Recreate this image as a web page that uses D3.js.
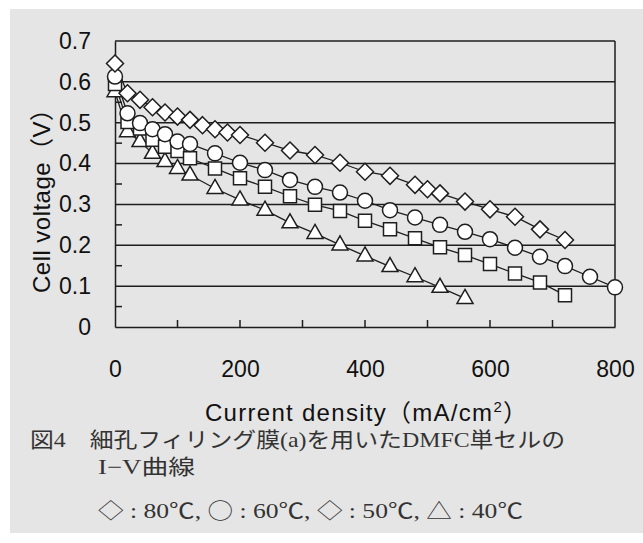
<!DOCTYPE html>
<html>
<head>
<meta charset="utf-8">
<script src="https://cdn.jsdelivr.net/npm/d3@7"></script>
<style>
  body { margin: 0; background: #fff; }
  .tick text { font-family: "Liberation Sans", Arial, sans-serif; }
</style>
</head>
<body>
<div id="chart"></div>
<script>
// I-V data (current density mA/cm2, cell voltage V)
var cur80 = [0, 20, 40, 60, 80, 100, 120, 140, 160, 180, 200, 240, 280, 320, 360, 400, 440, 480, 500, 520, 560, 600, 640, 680, 720];
var volt80 = [0.645, 0.572, 0.556, 0.538, 0.525, 0.515, 0.507, 0.494, 0.484, 0.476, 0.470, 0.451, 0.432, 0.421, 0.402, 0.380, 0.370, 0.348, 0.337, 0.327, 0.307, 0.288, 0.270, 0.239, 0.213];

var cur60 = [0, 20, 40, 60, 80, 100, 120, 160, 200, 240, 280, 320, 360, 400, 440, 480, 520, 560, 600, 640, 680, 720, 760, 800];
var volt60 = [0.613, 0.523, 0.499, 0.484, 0.472, 0.454, 0.448, 0.425, 0.402, 0.384, 0.360, 0.343, 0.329, 0.309, 0.286, 0.268, 0.250, 0.233, 0.215, 0.194, 0.172, 0.149, 0.123, 0.097];

var cur50 = [0, 20, 40, 60, 80, 100, 120, 160, 200, 240, 280, 320, 360, 400, 440, 480, 520, 560, 600, 640, 680, 720];
var volt50 = [0.595, 0.502, 0.486, 0.458, 0.441, 0.431, 0.413, 0.388, 0.364, 0.343, 0.320, 0.299, 0.284, 0.260, 0.239, 0.217, 0.195, 0.176, 0.154, 0.131, 0.109, 0.078];

var cur40 = [0, 20, 40, 60, 80, 100, 120, 160, 200, 240, 280, 320, 360, 400, 440, 480, 520, 560];
var volt40 = [0.576, 0.478, 0.454, 0.425, 0.405, 0.388, 0.372, 0.339, 0.311, 0.286, 0.255, 0.229, 0.201, 0.174, 0.148, 0.123, 0.097, 0.070];

var xTicks = [0, 200, 400, 600, 800];
var yTicks = [0, 0.1, 0.2, 0.3, 0.4, 0.5, 0.6, 0.7];

// caption pieces: [text, symbol?]
var captionLine1 = [["図4　細孔フィリング膜(a)を用いたDMFC単セルの", false]];
var captionLine2 = [["I−V曲線", false]];
var captionLine3 = [["◇", true], [" : 80℃, ", false], ["○", true], [" : 60℃, ", false],
                    ["◇", true], [" : 50℃, ", false], ["△", true], [" : 40℃", false]];

var svgWidth = 643;
var svgHeight = 543;
var margin = {top: 41, right: 28, bottom: 216, left: 115};
var width = svgWidth - margin.left - margin.right;
var height = svgHeight - margin.top - margin.bottom;

var svg = d3.select("#chart")
  .append("svg")
  .attr("width", svgWidth)
  .attr("height", svgHeight);

// grey panel behind everything
svg.append("rect")
  .attr("x", 10).attr("y", 9)
  .attr("width", svgWidth - 10).attr("height", 524)
  .attr("fill", "#e5e5e5");

var chartGroup = svg.append("g")
  .attr("transform", `translate(${margin.left}, ${margin.top})`);

var x = d3.scaleLinear().domain([0, 800]).range([0, width]);
var y = d3.scaleLinear().domain([0, 0.7]).range([height, 0]);

var ink = "#1e1e1e";

// horizontal grid lines
chartGroup.selectAll("line.grid")
  .data(yTicks.slice(1))
  .enter()
  .append("line")
  .attr("class", "grid")
  .attr("x1", 0).attr("x2", width)
  .attr("y1", d => y(d)).attr("y2", d => y(d))
  .attr("stroke", ink).attr("stroke-width", 1.5);

// right border
chartGroup.append("line")
  .attr("x1", width).attr("x2", width)
  .attr("y1", 0).attr("y2", height)
  .attr("stroke", ink).attr("stroke-width", 1.5);

// minor ticks on y axis (inside)
chartGroup.selectAll("line.ymin")
  .data(d3.range(0.05, 0.7, 0.1))
  .enter()
  .append("line")
  .attr("x1", 0).attr("x2", 7)
  .attr("y1", d => y(d)).attr("y2", d => y(d))
  .attr("stroke", ink).attr("stroke-width", 1.5);

// ticks on x axis pointing up
chartGroup.selectAll("line.xmin")
  .data(d3.range(100, 800, 100))
  .enter()
  .append("line")
  .attr("x1", d => x(d)).attr("x2", d => x(d))
  .attr("y1", height).attr("y2", height - 7)
  .attr("stroke", ink).attr("stroke-width", 1.5);

// axes
var leftAxis = d3.axisLeft(y).tickValues(yTicks).tickSize(0).tickPadding(24)
  .tickFormat(d => d === 0 ? "0" : d3.format(".1f")(d));
var bottomAxis = d3.axisBottom(x).tickValues(xTicks).tickSize(0).tickPadding(33);

var gy = chartGroup.append("g").call(leftAxis);
var gx = chartGroup.append("g").attr("transform", `translate(0, ${height})`).call(bottomAxis);

[gy, gx].forEach(function(g) {
  g.select(".domain").attr("stroke", ink).attr("stroke-width", 1.5);
  g.selectAll(".tick text").attr("font-size", 23).attr("fill", "#111");
});
gx.selectAll(".tick text").attr("dy", 0).attr("y", 50);

// series lines
var seriesList = [
  {cur: cur40, volt: volt40, shape: "triangle"},
  {cur: cur50, volt: volt50, shape: "square"},
  {cur: cur60, volt: volt60, shape: "circle"},
  {cur: cur80, volt: volt80, shape: "diamond"}
];

var line = d3.line()
  .x(d => x(d[0]))
  .y(d => y(d[1]));

function markerPath(shape) {
  if (shape === "triangle") return "M0,-9L8,5L-8,5Z";
  if (shape === "square") return "M-6.5,-6.5H6.5V6.5H-6.5Z";
  if (shape === "diamond") return "M0,-8.5L8.5,0L0,8.5L-8.5,0Z";
  return "M7.5,0A7.5,7.5 0 1,1 -7.5,0A7.5,7.5 0 1,1 7.5,0Z";
}

seriesList.forEach(function(s) {
  var pts = s.cur.map((c, i) => [c, s.volt[i]]);
  chartGroup.append("path")
    .datum(pts)
    .attr("d", line)
    .attr("fill", "none")
    .attr("stroke", ink)
    .attr("stroke-width", 1.3);
});

seriesList.forEach(function(s) {
  var pts = s.cur.map((c, i) => [c, s.volt[i]]);
  chartGroup.selectAll(null)
    .data(pts)
    .enter()
    .append("path")
    .attr("transform", d => `translate(${x(d[0])}, ${y(d[1])})`)
    .attr("d", markerPath(s.shape))
    .attr("fill", "#fff")
    .attr("stroke", ink)
    .attr("stroke-width", 1.5);
});

// axis titles
svg.append("text")
  .attr("transform", "translate(50, 195) rotate(-90)")
  .attr("text-anchor", "middle")
  .attr("textLength", 196)
  .style("font", "24px 'Liberation Sans', Arial, 'Noto Sans CJK JP', sans-serif")
  .attr("fill", "#111")
  .text("Cell voltage（V）");

var xTitle = svg.append("text")
  .attr("x", 205).attr("y", 421)
  .attr("textLength", 322)
  .style("font", "24px 'Liberation Sans', Arial, 'Noto Sans CJK JP', sans-serif")
  .attr("fill", "#111");
xTitle.append("tspan").text("Current density（mA/cm");
xTitle.append("tspan").attr("dy", -9).attr("font-size", 15).text("2");
xTitle.append("tspan").attr("dy", 9).text("）");

// caption
var serif = "'Liberation Serif', 'Noto Sans CJK JP', serif";
var symFont = "'Noto Sans CJK JP', sans-serif";
function captionLine(parts, cx, cy, len) {
  var t = svg.append("text")
    .attr("x", cx).attr("y", cy)
    .attr("textLength", len)
    .attr("lengthAdjust", "spacingAndGlyphs")
    .style("font-size", "21px")
    .style("font-family", serif)
    .attr("fill", "#333");
  parts.forEach(function(p) {
    t.append("tspan")
      .style("font-family", p[1] ? symFont : serif)
      .style("font-weight", p[1] ? 300 : 400)
      .text(p[0]);
  });
}
captionLine(captionLine1, 30, 447, 535);
captionLine(captionLine2, 98, 474, 97);
captionLine(captionLine3, 98, 518, 425);
</script>
</body>
</html>
